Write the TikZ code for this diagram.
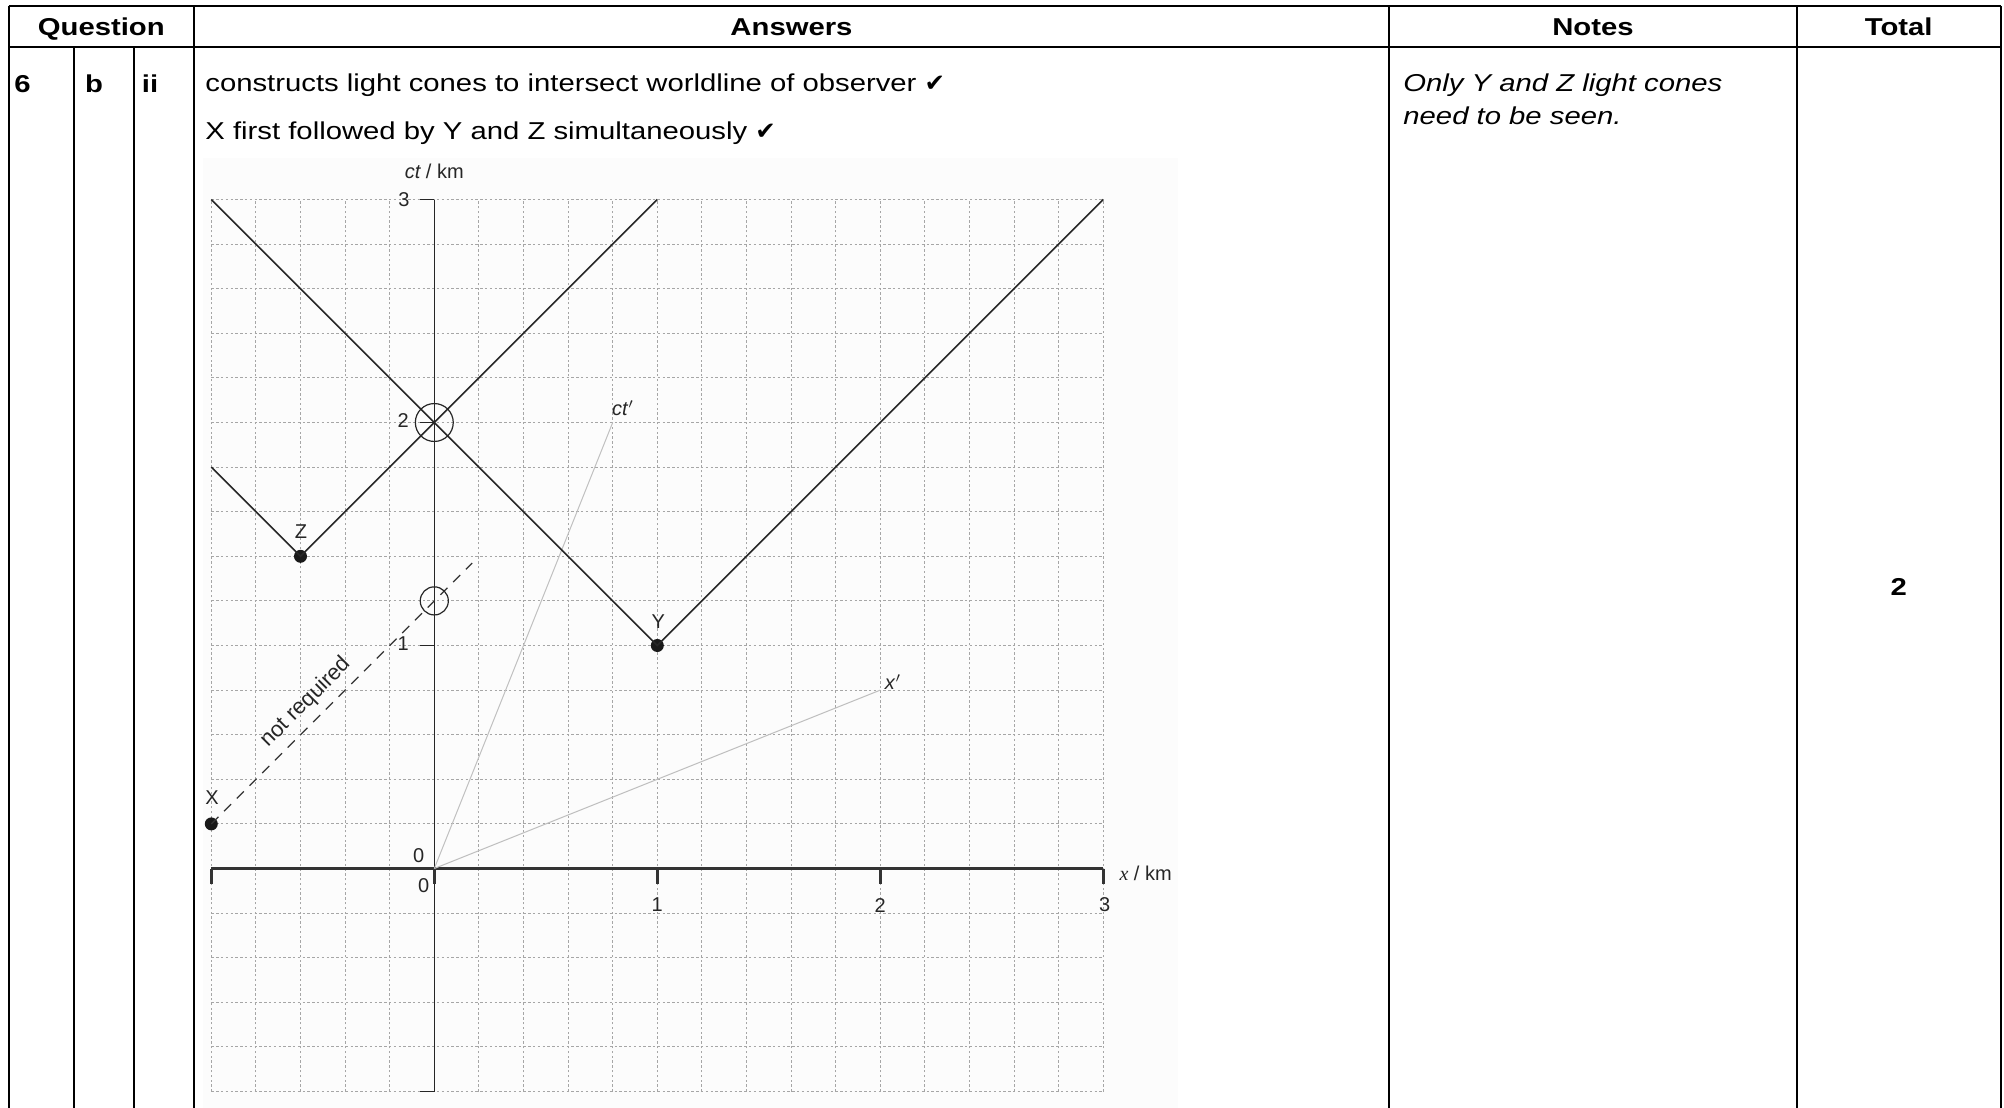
\documentclass[tikz,border=0pt]{standalone}
\usepackage{fontspec}
\setmainfont{Liberation Sans}
\newfontfamily\tabfont[FakeStretch=1.2]{Liberation Sans}
\newfontfamily\symfont{DejaVu Sans}
\newfontfamily\serfont{Liberation Serif}
\begin{document}
\begin{tikzpicture}[x=0.5pt,y=-0.5pt,
  rule/.style={line width=1.1pt,black},
  hdr/.style={font=\tabfont\fontsize{12.2}{14}\selectfont\bfseries, anchor=base, inner sep=0},
  bodytxt/.style={font=\tabfont\fontsize{12.2}{14}\selectfont, anchor=base west, inner sep=0},
  notetxt/.style={font=\tabfont\fontsize{12.2}{14}\selectfont\itshape, anchor=base west, inner sep=0},
  gridln/.style={gray!70, line width=0.5pt, dash pattern=on 1.2pt off 1.2pt},
  axisln/.style={black!80, line width=1.2pt},
  coneln/.style={black!85, line width=0.8pt},
  primeln/.style={black!25, line width=0.5pt},
  lab/.style={font=\fontsize{10}{12}\selectfont, text=black!85, inner sep=0},
  evdot/.style={circle, fill=black!90, inner sep=0, minimum size=6.5pt},
  ring/.style={black!85, line width=0.6pt},
]
\useasboundingbox (0,0) rectangle (2004,1108);
\fill[white] (0,0) rectangle (2004,1108);
\fill[black!1] (203,158) rectangle (1178,1108);

% ---------- table rules ----------
\draw[rule] (8.7,6) -- (2000.7,6);
\draw[rule] (8.7,47.3) -- (2000.7,47.3);
\draw[rule] (8.7,6) -- (8.7,1108);
\draw[rule] (73.7,47.3) -- (73.7,1108);
\draw[rule] (134.3,47.3) -- (134.3,1108);
\draw[rule] (194,6) -- (194,1108);
\draw[rule] (1389,6) -- (1389,1108);
\draw[rule] (1796.7,6) -- (1796.7,1108);
\draw[rule] (2000.7,6) -- (2000.7,1108);

% ---------- header ----------
\node[hdr] (hq) at (101.3,35) {Question};
\node[hdr] (ha) at (791.5,35) {Answers};
\node[hdr] (hn) at (1593,35) {Notes};
\node[hdr] (ht) at (1898.7,35) {Total};

% ---------- row ----------
\node[hdr] (q6) at (22.5,92) {6};
\node[hdr] (qb) at (94,92) {b};
\node[hdr] (qii) at (150,92) {ii};
\node[bodytxt] (a1) at (205,91) {constructs light cones to intersect worldline of observer {\symfont ✔}};
\node[bodytxt] (a2) at (205,139) {X first followed by Y and Z simultaneously {\symfont ✔}};
\node[notetxt] (n1) at (1403,91) {Only Y and Z light cones};
\node[notetxt] (n2) at (1403,124) {need to be seen.};
\node[hdr, anchor=center] (tot) at (1898.7,587) {2};

% ---------- graph ----------
\begin{scope}[shift={(217.15pt,-434.25pt)}, x=111.5pt, y=111.5pt]
  \draw[gridln] (-1,-1) grid[step=0.2] (3,3);
  % axes
  \coordinate (xl) at (-1,0);
  \coordinate (xr) at (3,0);
  \coordinate (yb) at (0,-1);
  \coordinate (yt) at (0,3);
  \coordinate (O) at (0,0);
  \draw[axisln] (xl) -- (xr);
  \draw[black!85, line width=0.8pt] (yb) -- (yt);
  \foreach \t in {-1,0,1,2,3} \draw[axisln] (\t,0) -- (\t,-0.07);
  \foreach \t in {-1,1,2,3} \draw[black!85, line width=0.8pt] (0,\t) -- (-0.065,\t);
  % axis labels
  \node[lab] (ctlab) at (0,3.128) {\itshape ct\upshape\ / km};
  \node[lab] (y3) at (-0.136,3.0) {3};
  \node[lab] (y2) at (-0.14,2.009) {2};
  \node[lab] (y1) at (-0.14,1.007) {1};
  \node[lab] (y0) at (-0.07,0.056) {0};
  \node[lab] (x0) at (-0.048,-0.075) {0};
  \node[lab] (x1) at (1.0,-0.164) {1};
  \node[lab] (x2) at (2.0,-0.164) {2};
  \node[lab] (x3) at (3.006,-0.164) {3};
  \node[lab, anchor=west] (xlab) at (3.071,-0.02) {{\serfont\itshape x} / km};
  % primed axes
  \coordinate (ctp) at (0.8,2.0);
  \coordinate (xp) at (2.0,0.8);
  \draw[primeln] (O) -- (ctp);
  \draw[primeln] (O) -- (xp);
  \node[lab] (ctplab) at (0.846,2.065) {\itshape ct\/$'$};
  \node[lab] (xplab) at (2.057,0.836) {\itshape x\/$'$};
  % light cones
  \coordinate (zl) at (-1,1.8);
  \coordinate (zr) at (1,3);
  \coordinate (yl) at (-1,3);
  \coordinate (yr) at (3,3);
  \node[evdot] (Z) at (-0.6,1.4) {};
  \node[evdot] (Y) at (1,1) {};
  \node[evdot] (X) at (-1,0.2) {};
  \draw[coneln] (zl) -- (Z.center) -- (zr);
  \draw[coneln] (yl) -- (Y.center) -- (yr);
  \node[lab] (Xl) at (-0.997,0.316) {X};
  \node[lab] (Zl) at (-0.598,1.51) {Z};
  \node[lab] (Yl) at (1.004,1.107) {Y};
  % not required line
  \coordinate (nrend) at (0.17,1.37);
  \draw[black!80, line width=0.6pt, dash pattern=on 5pt off 4pt] (X.center) -- (nrend);
  \node[lab, rotate=45, font=\fontsize{11}{12}\selectfont] (nr) at (-0.575,0.745) {not required};
  % circles
  \coordinate (c2) at (0,2);
  \coordinate (c12) at (0,1.2);
  \draw[ring] (c2) circle[radius=0.085];
  \draw[ring] (c12) circle[radius=0.063];
\end{scope}
\end{tikzpicture}
\end{document}
